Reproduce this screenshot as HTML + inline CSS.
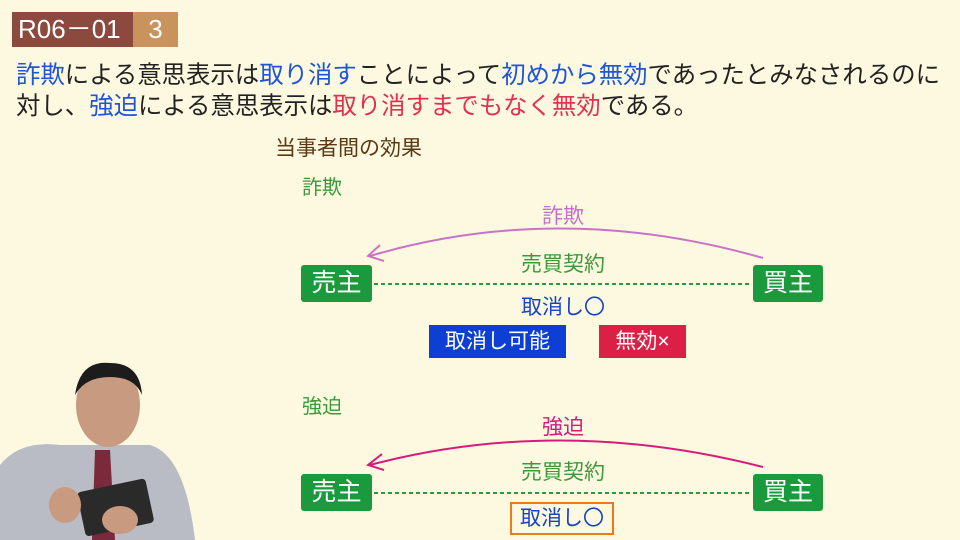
<!DOCTYPE html>
<html><head><meta charset="utf-8"><style>
body{margin:0;width:960px;height:540px;background:#fdf9e0;overflow:hidden;position:relative;font-family:"Liberation Sans","Noto Sans CJK JP",sans-serif}
.a{position:absolute;white-space:nowrap}
.bl{color:#1f55d6}.rd{color:#e0324e}
.box{position:absolute;color:#fff;text-align:center;font-size:25px;border-radius:3px}
</style></head><body>
<div class="a" style="left:12px;top:12px;width:121px;height:35px;background:#8c4a3f;color:#fff;font-size:26px;line-height:35px;text-indent:6px">R06－01</div>
<div class="a" style="left:133px;top:12px;width:45px;height:35px;background:#c9935e;color:#fff;font-size:26px;line-height:35px;text-align:center">3</div>
<div class="a" style="left:16px;top:56px;font-size:24.4px;color:#222"><span class="bl">詐欺</span>による意思表示は<span class="bl">取り消す</span>ことによって<span class="bl">初めから無効</span>であったとみなされるのに</div>
<div class="a" style="left:16px;top:87px;font-size:24.4px;color:#222">対し、<span class="bl">強迫</span>による意思表示は<span class="rd">取り消すまでもなく無効</span>である。</div>
<div class="a" style="left:275px;top:132px;font-size:21px;color:#5a3a16">当事者間の効果</div>
<div class="a" style="left:302px;top:171px;font-size:20px;color:#3a9a3a">詐欺</div>
<div class="a" style="left:302px;top:390px;font-size:20px;color:#3a9a3a">強迫</div>
<svg class="a" style="left:0;top:0" width="960" height="540">
<path d="M763 258 Q560 200 370 256" fill="none" stroke="#c872c8" stroke-width="2"/>
<path d="M380 245 L368 256 L384 261" fill="none" stroke="#c872c8" stroke-width="2"/>
<path d="M763 467 Q560 415 370 465" fill="none" stroke="#d81a7a" stroke-width="2"/>
<path d="M382 454 L368 465 L384 470" fill="none" stroke="#d81a7a" stroke-width="2"/>
<line x1="374" y1="284" x2="752" y2="284" stroke="#2a9a3c" stroke-width="2" stroke-dasharray="4,3"/>
<line x1="374" y1="493" x2="752" y2="493" stroke="#2a9a3c" stroke-width="2" stroke-dasharray="4,3"/>
</svg>
<div class="a" style="left:563px;top:200px;transform:translateX(-50%);font-size:21px;color:#c86ec8">詐欺</div>
<div class="a" style="left:563px;top:248px;transform:translateX(-50%);font-size:21px;color:#3a9a3a">売買契約</div>
<div class="a" style="left:563px;top:291px;transform:translateX(-50%);font-size:21px;color:#1644c8">取消し〇</div>
<div class="a" style="left:563px;top:411px;transform:translateX(-50%);font-size:21px;color:#d81a7a">強迫</div>
<div class="a" style="left:563px;top:456px;transform:translateX(-50%);font-size:21px;color:#3a9a3a">売買契約</div>
<div class="box" style="left:301px;top:265px;width:71px;height:37px;line-height:37px;background:#1a9a3c">売主</div>
<div class="box" style="left:753px;top:265px;width:70px;height:37px;line-height:37px;background:#1a9a3c">買主</div>
<div class="box" style="left:301px;top:474px;width:71px;height:37px;line-height:37px;background:#1a9a3c">売主</div>
<div class="box" style="left:753px;top:474px;width:70px;height:37px;line-height:37px;background:#1a9a3c">買主</div>
<div class="box" style="left:429px;top:325px;width:137px;height:33px;line-height:33px;background:#0d3fd4;font-size:21px;border-radius:0">取消し可能</div>
<div class="box" style="left:599px;top:325px;width:87px;height:33px;line-height:33px;background:#dc1f45;font-size:21px;border-radius:0">無効×</div>
<div class="a" style="left:510px;top:502px;width:100px;height:29px;border:2px solid #ee7a1a;font-size:21px;color:#1644c8;text-align:center;line-height:29px">取消し〇</div>
<svg class="a" style="left:0;top:355px" width="200" height="185">
<path d="M0 110 Q20 85 60 90 L150 90 Q185 100 195 185 L0 185Z" fill="#b9bcc4"/>
<path d="M95 95 L110 95 L115 185 L92 185Z" fill="#7a2a3a"/>
<ellipse cx="108" cy="50" rx="32" ry="42" fill="#c89a80"/>
<path d="M75 40 Q80 5 110 8 Q140 8 142 40 Q135 22 110 22 Q85 22 75 40Z" fill="#1c1c1c"/>
<rect x="80" y="130" width="70" height="45" rx="4" fill="#2a2a2a" transform="rotate(-12 115 150)"/>
<ellipse cx="65" cy="150" rx="16" ry="18" fill="#c89a80"/>
<ellipse cx="120" cy="165" rx="18" ry="14" fill="#c89a80"/>
</svg>
</body></html>
